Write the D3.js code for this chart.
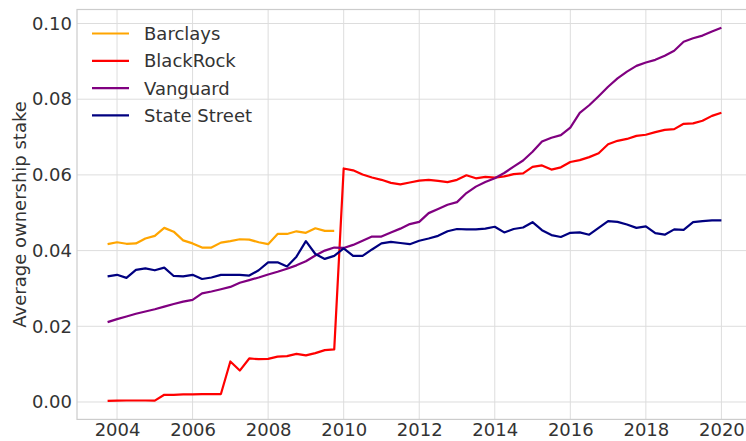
<!DOCTYPE html>
<html>
<head>
<meta charset="utf-8">
<script src="https://cdn.jsdelivr.net/npm/d3@7"></script>
<style>
	body { margin: 0; background: #ffffff; }
	text { font-family: "DejaVu Sans", sans-serif; fill: #333333; }
	.axis path, .axis line { display: none; }
	.grid line { stroke: #dddddd; stroke-width: 1; }
</style>
</head>
<body>
<svg width="746" height="441"></svg>
<script>
const w = 746;
const h = 441;

// quarters from 2003 Q4 to 2020 Q1
const quarters = d3.range(66).map((i) => 2003.75 + i * 0.25);

const barclays = [
	0.0417, 0.0422, 0.0418, 0.0419, 0.0432, 0.0439, 0.0460, 0.0450, 0.0427, 0.0419,
	0.0408, 0.0408, 0.0421, 0.0425, 0.0430, 0.0429, 0.0422, 0.0417, 0.0444, 0.0444,
	0.0451, 0.0447, 0.0459, 0.0452, 0.0452
];

const blackrock = [
	0.0003, 0.00035, 0.0004, 0.0004, 0.0004, 0.00035, 0.0019, 0.0019, 0.0020, 0.0020,
	0.0021, 0.0021, 0.0021, 0.0107, 0.0083, 0.0115, 0.0113, 0.0114, 0.0120, 0.0121,
	0.0127, 0.0123, 0.0129, 0.0137, 0.0139, 0.0617, 0.0612, 0.0601, 0.0593, 0.0587,
	0.0579, 0.0575, 0.0580, 0.0585, 0.0587, 0.0584, 0.0581, 0.0587, 0.0599, 0.0591,
	0.0595, 0.0593, 0.0596, 0.0602, 0.0604, 0.0621, 0.0625, 0.0614, 0.0620, 0.0634,
	0.0639, 0.0647, 0.0657, 0.0681, 0.0690, 0.0695, 0.0703, 0.0706, 0.0713, 0.0719,
	0.0721, 0.0735, 0.0736, 0.0743, 0.0756, 0.0764
];

const vanguard = [
	0.0211, 0.0219, 0.0226, 0.0233, 0.0239, 0.0245, 0.0252, 0.0259, 0.0265, 0.0270,
	0.0287, 0.0292, 0.0298, 0.0304, 0.0315, 0.0322, 0.0329, 0.0337, 0.0344, 0.0352,
	0.0361, 0.0372, 0.0387, 0.0400, 0.0408, 0.0407, 0.0415, 0.0426, 0.0437, 0.0437,
	0.0448, 0.0458, 0.0470, 0.0476, 0.0499, 0.0510, 0.0521, 0.0528, 0.0552, 0.0569,
	0.0581, 0.0591, 0.0605, 0.0622, 0.0638, 0.0661, 0.0688, 0.0698, 0.0705, 0.0725,
	0.0764, 0.0784, 0.0808, 0.0833, 0.0855, 0.0873, 0.0888, 0.0897, 0.0904, 0.0915,
	0.0928, 0.0952, 0.0961, 0.0968, 0.0979, 0.0989
];

const state_street = [
	0.0332, 0.0336, 0.0328, 0.0349, 0.0353, 0.0348, 0.0355, 0.0333, 0.0332, 0.0336,
	0.0325, 0.0329, 0.0336, 0.0336, 0.0336, 0.0334, 0.0348, 0.0369, 0.0369, 0.0358,
	0.0384, 0.0425, 0.0391, 0.0378, 0.0386, 0.0406, 0.0386, 0.0386, 0.0403, 0.0419,
	0.0423, 0.0420, 0.0417, 0.0426, 0.0432, 0.0439, 0.0451, 0.0457, 0.0456, 0.0456,
	0.0458, 0.0463, 0.0448, 0.0457, 0.0461, 0.0475, 0.0454, 0.0441, 0.0436, 0.0447,
	0.0448, 0.0442, 0.0460, 0.0478, 0.0476, 0.0469, 0.0460, 0.0464, 0.0446, 0.0442,
	0.0456, 0.0455, 0.0475, 0.0478, 0.0480, 0.0480
];

const series_names = ["Barclays", "BlackRock", "Vanguard", "State Street"];
const series_values = [barclays, blackrock, vanguard, state_street];
const colors = ["orange", "red", "purple", "navy"];

const x_ticks = [2004, 2006, 2008, 2010, 2012, 2014, 2016, 2018, 2020];
const y_ticks = [0.00, 0.02, 0.04, 0.06, 0.08, 0.10];

const left = 77;
const top_edge = 9.5;
const bottom = 419.4;
const right = 752;

const x_scale = d3.scaleLinear()
	.domain([2002.94, 2020.81])
	.range([left, right]);

const y_scale = d3.scaleLinear()
	.domain([-0.0046, 0.1037])
	.range([bottom, top_edge]);

const svg = d3.select("svg");

// grid
svg.append("g")
	.attr("class", "grid")
	.selectAll("line.gx")
	.data(x_ticks)
	.join("line")
	.attr("x1", (d) => x_scale(d))
	.attr("x2", (d) => x_scale(d))
	.attr("y1", top_edge)
	.attr("y2", bottom);

svg.append("g")
	.attr("class", "grid")
	.selectAll("line.gy")
	.data(y_ticks)
	.join("line")
	.attr("x1", left)
	.attr("x2", right)
	.attr("y1", (d) => y_scale(d))
	.attr("y2", (d) => y_scale(d));

// frame
svg.append("rect")
	.attr("x", left)
	.attr("y", top_edge)
	.attr("width", right - left)
	.attr("height", bottom - top_edge)
	.attr("fill", "none")
	.attr("stroke", "#cccccc")
	.attr("stroke-width", 1.2);

// axes
const x_axis = d3.axisBottom(x_scale).tickValues(x_ticks).tickFormat(d3.format("d")).tickSize(0).tickPadding(3.5);
const y_axis = d3.axisLeft(y_scale).tickValues(y_ticks).tickFormat(d3.format(".2f")).tickSize(0).tickPadding(5);

svg.append("g")
	.attr("class", "axis")
	.attr("transform", "translate(0, " + bottom + ")")
	.call(x_axis)
	.selectAll("text")
	.style("font-size", "18px")
	.style("font-family", "DejaVu Sans")
	.attr("fill", "#333333");

svg.append("g")
	.attr("class", "axis")
	.attr("transform", "translate(" + left + ", 0)")
	.call(y_axis)
	.selectAll("text")
	.style("font-size", "18px")
	.style("font-family", "DejaVu Sans")
	.attr("fill", "#333333");

svg.append("text")
	.attr("transform", "translate(26, " + ((top_edge + bottom) / 2) + ") rotate(-90)")
	.attr("text-anchor", "middle")
	.style("font-size", "18px")
	.text("Average ownership stake");

// lines
const line = d3.line()
	.x((d) => x_scale(d[0]))
	.y((d) => y_scale(d[1]));

series_values.forEach((values, i) => {
	const points = values.map((v, j) => [quarters[j], v]);
	svg.append("path")
		.datum(points)
		.attr("d", line)
		.attr("fill", "none")
		.attr("stroke", colors[i])
		.attr("stroke-width", 2.2)
		.attr("stroke-linejoin", "round");
});

// legend
const legend = svg.append("g").attr("transform", "translate(92, 33.5)");

series_names.forEach((name, i) => {
	legend.append("line")
		.attr("x1", 0)
		.attr("x2", 37)
		.attr("y1", i * 27.3)
		.attr("y2", i * 27.3)
		.attr("stroke", colors[i])
		.attr("stroke-width", 2.2);

	legend.append("text")
		.attr("x", 52)
		.attr("y", i * 27.3)
		.attr("dy", "0.36em")
		.style("font-size", "18px")
		.text(name);
});
</script>
</body>
</html>
